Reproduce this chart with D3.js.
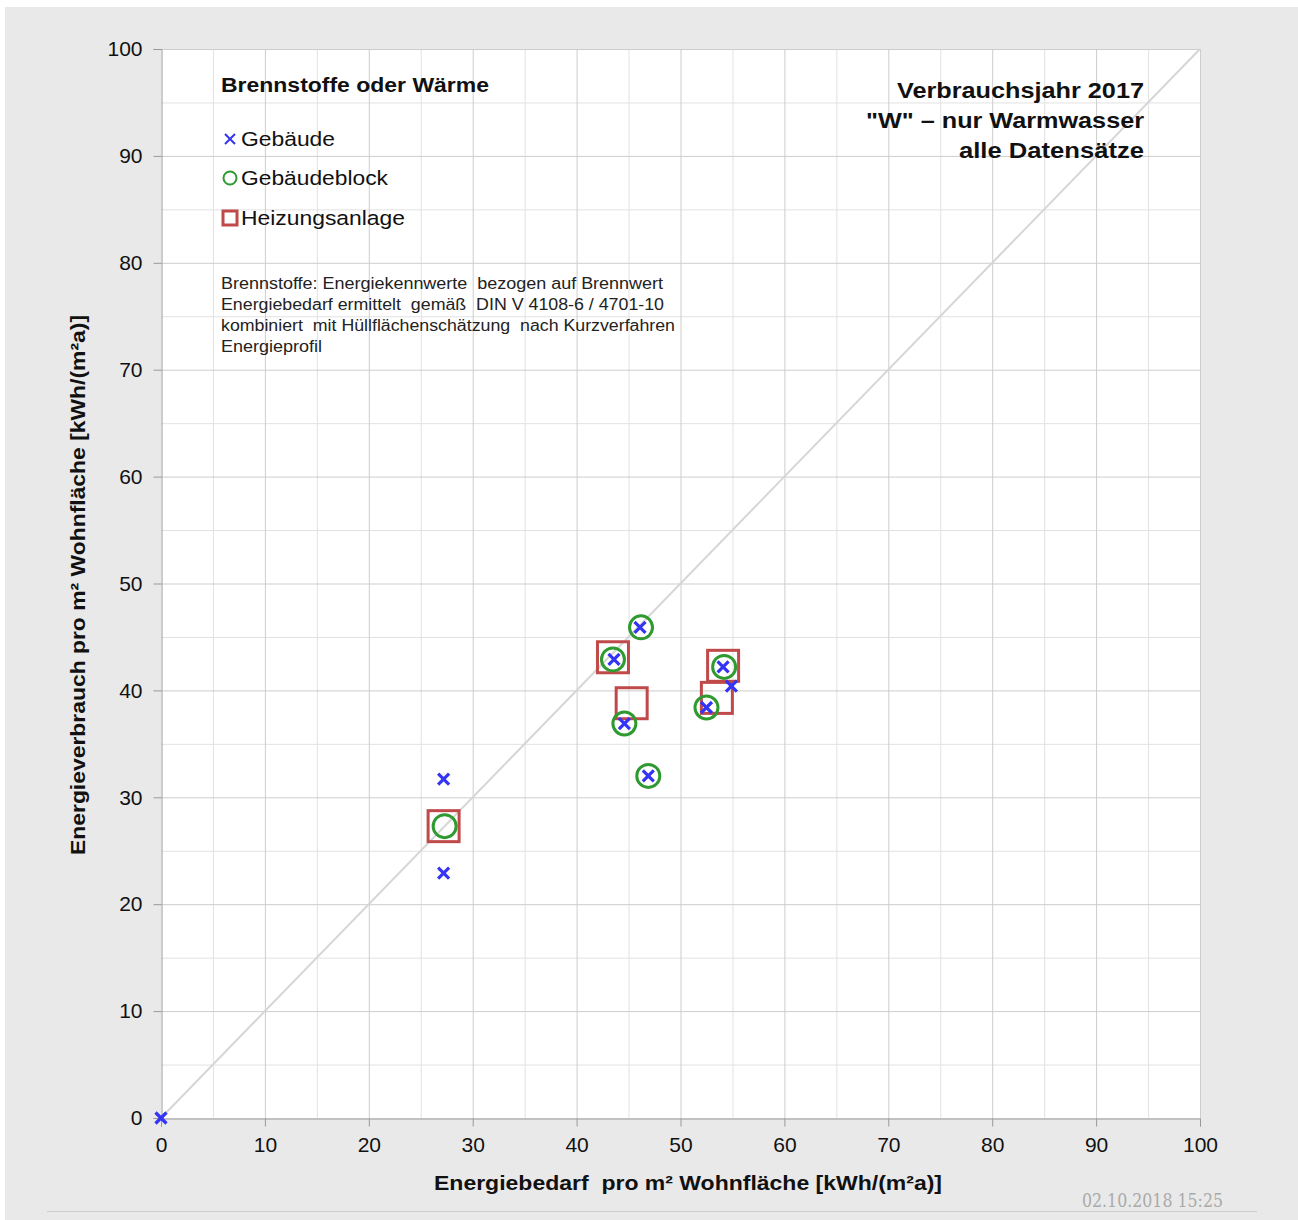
<!DOCTYPE html>
<html>
<head>
<meta charset="utf-8">
<script src="https://cdn.jsdelivr.net/npm/d3@7"></script>
<style>
  body { margin: 0; background: #fff; }
  svg { display: block; font-family: "Liberation Sans", Arial, sans-serif; }
</style>
</head>
<body>
<div id="chart"></div>
<script>
// data: [Energiebedarf, Energieverbrauch]
const gebaeude = [
  [0, 0], [27.2, 31.7], [27.2, 22.9], [46.1, 45.9], [43.6, 42.9],
  [44.6, 36.9], [46.9, 32.0], [54.1, 42.2], [52.5, 38.4], [54.9, 40.4]
];
const gebaeudeblock = [
  [27.3, 27.3], [46.2, 45.9], [43.5, 42.9], [44.6, 36.9],
  [46.9, 32.0], [54.2, 42.2], [52.5, 38.4]
];
const heizungsanlage = [
  [27.2, 27.3], [43.5, 43.1], [45.3, 38.8], [54.1, 42.3], [53.5, 39.3]
];
const titleLines = ["Verbrauchsjahr 2017", "\"W\" – nur Warmwasser", "alle Datensätze"];
const noteLines = [
  "Brennstoffe: Energiekennwerte  bezogen auf Brennwert",
  "Energiebedarf ermittelt  gemäß  DIN V 4108-6 / 4701-10",
  "kombiniert  mit Hüllflächenschätzung  nach Kurzverfahren",
  "Energieprofil"
];
const legendItems = ["Gebäude", "Gebäudeblock", "Heizungsanlage"];
const ticks = d3.range(0, 101, 10);
const minorTicks = d3.range(5, 100, 10);

const width = 1298, height = 1220;
const blue = "#3434f4", green = "#2f9a2f", red = "#c0494a";

// rendered text widths (the original font runs wider than Liberation Sans)
const titleWidths = [247, 278, 185];
const noteWidths = [442, 443, 454, 101];
const legendWidths = [94, 147, 164];

const svg = d3.select("#chart").append("svg")
  .attr("width", width)
  .attr("height", height);

function stretch(sel, w) {
  sel.attr("textLength", w).attr("lengthAdjust", "spacingAndGlyphs");
}

// background panel
svg.append("rect").attr("x", 5).attr("y", 7)
  .attr("width", width - 5).attr("height", height - 7)
  .attr("fill", "#e9e9e9");
svg.append("line")
  .attr("x1", 47).attr("x2", 1257).attr("y1", 1211.5).attr("y2", 1211.5)
  .attr("stroke", "#cccccc");

const x = d3.scaleLinear().domain([0, 100]).range([161, 1200]);
const y = d3.scaleLinear().domain([0, 100]).range([1118, 49]);

svg.append("rect")
  .attr("x", x(0)).attr("y", y(100))
  .attr("width", x(100) - x(0)).attr("height", y(0) - y(100))
  .attr("fill", "#fff");

// grid lines
const grid = svg.append("g").attr("class", "grid");
grid.selectAll(".vminor").data(minorTicks).enter().append("line")
  .attr("x1", d => x(d) + 0.5).attr("x2", d => x(d) + 0.5)
  .attr("y1", y(0)).attr("y2", y(100))
  .attr("stroke", "#e2e2e2");
grid.selectAll(".hminor").data(minorTicks).enter().append("line")
  .attr("y1", d => y(d) + 0.5).attr("y2", d => y(d) + 0.5)
  .attr("x1", x(0)).attr("x2", x(100))
  .attr("stroke", "#e2e2e2");
grid.selectAll(".vmajor").data(ticks.slice(1)).enter().append("line")
  .attr("x1", d => x(d) + 0.5).attr("x2", d => x(d) + 0.5)
  .attr("y1", y(0)).attr("y2", y(100))
  .attr("stroke", "#cdcdcd");
grid.selectAll(".hmajor").data(ticks.slice(1)).enter().append("line")
  .attr("y1", d => y(d) + 0.5).attr("y2", d => y(d) + 0.5)
  .attr("x1", x(0)).attr("x2", x(100))
  .attr("stroke", "#cdcdcd");

// diagonal reference line
svg.append("line")
  .attr("x1", x(0)).attr("y1", y(0))
  .attr("x2", x(100)).attr("y2", y(100))
  .attr("stroke", "#d6d6d6").attr("stroke-width", 2);

// axes
const xAxis = svg.append("g")
  .attr("transform", "translate(0," + (y(0) + 0.5) + ")")
  .call(d3.axisBottom(x).tickValues(ticks).tickSize(8).tickPadding(11));
const yAxis = svg.append("g")
  .attr("transform", "translate(" + (x(0) + 0.5) + ",0)")
  .call(d3.axisLeft(y).tickValues(ticks).tickSize(8).tickPadding(11));
[xAxis, yAxis].forEach(ax => {
  ax.select(".domain").attr("stroke", "#999");
  ax.selectAll(".tick line").attr("stroke", "#999");
  ax.selectAll(".tick text")
    .attr("fill", "#111")
    .style("font-size", "21px")
    .style("font-family", "'Liberation Sans', Arial, sans-serif");
});

// axis titles
svg.append("text")
  .attr("x", 688).attr("y", 1190)
  .attr("text-anchor", "middle")
  .style("font-size", "20.5px").style("font-weight", "bold")
  .style("white-space", "pre")
  .attr("fill", "#111")
  .text("Energiebedarf  pro m² Wohnfläche [kWh/(m²a)]")
  .call(stretch, 508);
svg.append("text")
  .attr("transform", "translate(85,585) rotate(-90)")
  .attr("text-anchor", "middle")
  .style("font-size", "20.5px").style("font-weight", "bold")
  .attr("fill", "#111")
  .text("Energieverbrauch pro m² Wohnfläche [kWh/(m²a)]")
  .call(stretch, 540);

// markers
const crossPath = s => "M" + (-s) + "," + (-s) + "L" + s + "," + s + "M" + (-s) + "," + s + "L" + s + "," + (-s);

svg.append("g").selectAll("rect")
  .data(heizungsanlage).enter().append("rect")
  .attr("x", d => x(d[0]) - 15.5).attr("y", d => y(d[1]) - 15.5)
  .attr("width", 31).attr("height", 31)
  .attr("fill", "none").attr("stroke", red).attr("stroke-width", 3);

svg.append("g").selectAll("circle")
  .data(gebaeudeblock).enter().append("circle")
  .attr("cx", d => x(d[0])).attr("cy", d => y(d[1]))
  .attr("r", 11.5)
  .attr("fill", "none").attr("stroke", green).attr("stroke-width", 3);

svg.append("g").selectAll("path")
  .data(gebaeude).enter().append("path")
  .attr("transform", d => "translate(" + x(d[0]) + "," + y(d[1]) + ")")
  .attr("d", crossPath(5.5))
  .attr("fill", "none").attr("stroke", blue).attr("stroke-width", 3.2);

// legend
svg.append("text")
  .attr("x", 221).attr("y", 92)
  .style("font-size", "20px").style("font-weight", "bold")
  .attr("fill", "#111")
  .text("Brennstoffe oder Wärme")
  .call(stretch, 268);

const legendY = [139, 178, 218];
const legend = svg.append("g");
legend.selectAll("text").data(legendItems).enter().append("text")
  .attr("x", 241).attr("y", (d, i) => legendY[i] + 7)
  .style("font-size", "20.5px")
  .attr("fill", "#111")
  .text(d => d)
  .each(function (d, i) { d3.select(this).call(stretch, legendWidths[i]); });
legend.append("path")
  .attr("transform", "translate(230," + legendY[0] + ")")
  .attr("d", crossPath(5))
  .attr("fill", "none").attr("stroke", blue).attr("stroke-width", 2);
legend.append("circle")
  .attr("cx", 230).attr("cy", legendY[1]).attr("r", 6.5)
  .attr("fill", "none").attr("stroke", green).attr("stroke-width", 2);
legend.append("rect")
  .attr("x", 223).attr("y", legendY[2] - 7)
  .attr("width", 14).attr("height", 14)
  .attr("fill", "none").attr("stroke", red).attr("stroke-width", 3);

svg.append("g").selectAll("text")
  .data(noteLines).enter().append("text")
  .attr("x", 221).attr("y", (d, i) => 289 + i * 21)
  .style("font-size", "16px")
  .style("white-space", "pre")
  .attr("fill", "#222")
  .text(d => d)
  .each(function (d, i) { d3.select(this).call(stretch, noteWidths[i]); });

// chart title, top right
svg.append("g").selectAll("text")
  .data(titleLines).enter().append("text")
  .attr("x", 1144).attr("y", (d, i) => 98 + i * 30)
  .attr("text-anchor", "end")
  .style("font-size", "22px").style("font-weight", "bold")
  .attr("fill", "#111")
  .text(d => d)
  .each(function (d, i) { d3.select(this).call(stretch, titleWidths[i]); });

// timestamp
svg.append("text")
  .attr("x", 1223).attr("y", 1207)
  .attr("text-anchor", "end")
  .style("font-size", "18px")
  .style("font-family", "'DejaVu Serif', 'Liberation Serif', serif")
  .attr("fill", "#aaaaaa")
  .text("02.10.2018 15:25")
  .call(stretch, 141);
</script>
</body>
</html>
